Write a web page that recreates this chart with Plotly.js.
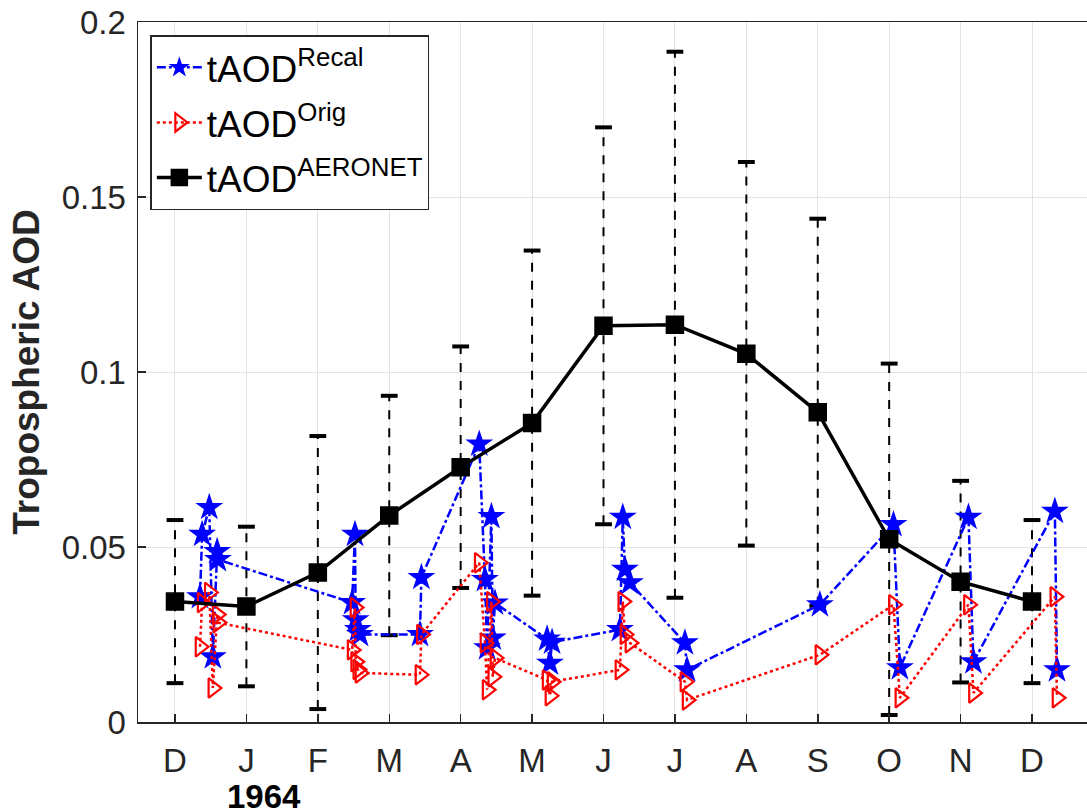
<!DOCTYPE html>
<html>
<head>
<meta charset="utf-8">
<script src="https://cdn.plot.ly/plotly-3.0.1.min.js"></script>
<style>html,body{margin:0;padding:0;background:#fff;}#chart{width:1087px;height:810px;}</style>
</head>
<body>
<div id="chart"></div>
<script>
// Month index: 0 = Dec 1963, 1 = Jan 1964, ... 12 = Dec 1964
var monthTicks = [0,1,2,3,4,5,6,7,8,9,10,11,12];
var monthLabels = ['D','J','F','M','A','M','J','J','A','S','O','N','D'];

// Recalibrated and original tAOD observations (x in months)
var obsX = [0.35,0.38,0.48,0.53,0.59,0.60,
            2.48,2.52,2.53,2.56,2.59,3.43,3.45,
            4.26,4.34,4.37,4.43,4.45,4.48,
            5.21,5.25,5.28,
            6.23,6.27,6.30,6.37,
            7.14,7.17,
            9.03,
            10.06,10.15,
            11.11,11.18,
            12.32,12.35];
var recal = [0.0358,0.0536,0.0613,0.0186,0.0487,0.0464,
             0.0341,0.0536,0.0292,0.0264,0.0250,0.0250,0.0413,
             0.0794,0.0407,0.0212,0.0587,0.0240,0.0340,
             0.0237,0.0168,0.0228,
             0.0264,0.0585,0.0436,0.0398,
             0.0226,0.0149,
             0.0335,
             0.0564,0.0155,
             0.0585,0.0172,
             0.0602,0.0149];
var orig = [0.0215,0.0341,0.0370,0.0097,0.0307,0.0284,
            0.0206,0.0327,0.0172,0.0150,0.0140,0.0135,0.0250,
            0.0455,0.0226,0.0092,0.0344,0.0129,0.0183,
            0.0120,0.0075,0.0115,
            0.0149,0.0344,0.0250,0.0226,
            0.0115,0.0063,
            0.0192,
            0.0335,0.0069,
            0.0335,0.0083,
            0.0358,0.0069];

// AERONET monthly mean and standard deviation
var aeroX = [0,1,2,3,4,5,6,7,8,9,10,11,12];
var aeroMean = [0.0344,0.0330,0.0427,0.0590,0.0728,0.0854,0.1132,0.1135,0.1052,0.0885,0.0522,0.0401,0.0344];
var aeroStd  = [0.0233,0.0228,0.0390,0.0342,0.0345,0.0493,0.0567,0.0780,0.0548,0.0553,0.0502,0.0288,0.0233];

// Build dashed error bar segments and caps from the data
var ebX = [], ebY = [], capX = [], capY = [];
for (var i = 0; i < aeroX.length; i++) {
  var lo = aeroMean[i] - aeroStd[i], hi = aeroMean[i] + aeroStd[i];
  ebX.push(aeroX[i], aeroX[i], null);
  ebY.push(lo, hi, null);
  capX.push(aeroX[i], aeroX[i]);
  capY.push(lo, hi);
}

var FONT = 'Liberation Sans, Arial, Helvetica, sans-serif';

var traces = [
  {x: ebX, y: ebY, mode: 'lines', line: {color: '#000', width: 2, dash: 'dash'},
   showlegend: false, hoverinfo: 'skip'},
  {x: capX, y: capY, mode: 'markers',
   marker: {symbol: 'line-ew', size: 12, line: {color: '#000', width: 4}},
   showlegend: false, hoverinfo: 'skip'},
  {x: obsX, y: recal, mode: 'lines+markers', name: 'tAOD<sup>Recal</sup>', legendrank: 1, legendgroup: 'a',
   line: {color: '#0000ff', width: 2.5, dash: 'dashdot'},
   marker: {symbol: 'star', size: 21, color: '#0000ff', line: {color: '#0000ff', width: 0}}},
  {x: obsX, y: orig, mode: 'lines+markers', name: 'tAOD<sup>Orig</sup>', legendrank: 2, legendgroup: 'b',
   line: {color: '#ff0000', width: 2.5, dash: 'dot'},
   marker: {symbol: 'triangle-right-open', size: 17, color: '#ff0000', line: {color: '#ff0000', width: 2.2}}},
  {x: aeroX, y: aeroMean, mode: 'lines+markers', name: 'tAOD<sup>AERONET</sup>', legendrank: 3, legendgroup: 'c',
   line: {color: '#000', width: 3.5},
   marker: {symbol: 'square', size: 17, color: '#000', line: {color: '#000', width: 1.5}}}
];

var layout = {
  width: 1087, height: 810,
  margin: {l: 138, r: 0, t: 22, b: 88},
  paper_bgcolor: '#fff', plot_bgcolor: '#fff',
  font: {family: FONT, color: '#262626', size: 33},
  showlegend: true,
  legend: {x: 0.013, y: 0.981, xanchor: 'left', yanchor: 'top',
           bgcolor: '#fff', bordercolor: '#262626', borderwidth: 1.5,
           font: {family: FONT, size: 37, color: '#000'},
           itemwidth: 45, tracegroupgap: 4},
  xaxis: {range: [-0.518, 12.77], tickmode: 'array', tickvals: monthTicks, ticktext: monthLabels,
          showgrid: true, gridcolor: '#e3e3e3', gridwidth: 1, zeroline: false,
          showline: true, linecolor: '#262626', linewidth: 1.5, mirror: true,
          ticks: 'inside', ticklen: 8, tickwidth: 1.5, tickcolor: '#262626',
          ticklabelstandoff: 9, tickfont: {family: FONT, size: 33, color: '#262626'}},
  yaxis: {range: [0, 0.2], tickmode: 'array', tickvals: [0,0.05,0.1,0.15,0.2],
          ticktext: ['0','0.05','0.1','0.15','0.2'],
          showgrid: true, gridcolor: '#e3e3e3', gridwidth: 1, zeroline: false,
          showline: true, linecolor: '#262626', linewidth: 1.5, mirror: true,
          ticks: 'inside', ticklen: 8, tickwidth: 1.5, tickcolor: '#262626',
          ticklabelstandoff: 4, tickfont: {family: FONT, size: 33, color: '#262626'},
          title: {text: '<b>Tropospheric AOD</b>', standoff: 10,
                  font: {family: FONT, size: 37, color: '#262626'}}},
  annotations: [{text: '<b>1964</b>', xref: 'x', yref: 'paper', x: 1.25, y: -0.106,
                 showarrow: false, xanchor: 'center', yanchor: 'middle',
                 font: {family: FONT, size: 33, color: '#000'}}]
};

Plotly.newPlot('chart', traces, layout, {displayModeBar: false, staticPlot: true});
</script>
</body>
</html>
